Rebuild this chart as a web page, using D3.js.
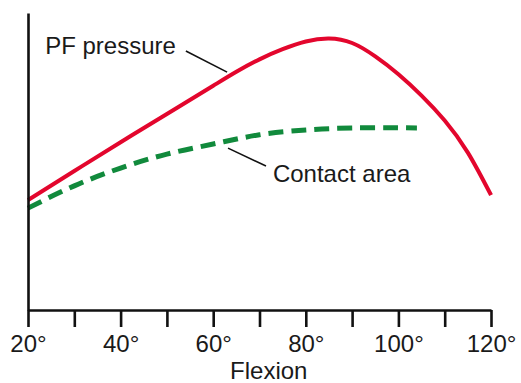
<!DOCTYPE html>
<html>
<head>
<style>
body { margin: 0; background: #fff; }
text { font-family: "Liberation Sans", Arial, sans-serif; fill: #1a1a1a; }
.axis path, .axis line { stroke: #111; stroke-width: 2.6; }
.axis text { font-size: 24px; }
</style>
<script src="https://cdn.jsdelivr.net/npm/d3@7"></script>
</head>
<body>
<svg width="521" height="383"></svg>
<script>

// flexion angle (deg) and relative values
var pfDeg = [20, 30, 40, 50, 60, 65, 70, 75, 80, 85, 90, 95, 100, 105, 110, 115, 120];
var pfVal = [37, 46.8, 56.5, 66, 75.5, 80.2, 84.4, 87.8, 90.4, 91.4, 89.9, 85.4, 79.4, 72.2, 63.8, 53, 38.7];

var caDeg = [20, 30, 40, 50, 60, 70, 80, 90, 104];
var caVal = [34.3, 41.8, 47.8, 52.5, 55.9, 59, 60.6, 61.3, 61.3];

var tickDeg = [20, 30, 40, 50, 60, 70, 80, 90, 100, 110, 120];

var svg = d3.select("svg"),
    margin = {top: 13, right: 30, bottom: 73, left: 28},
    width = +svg.attr("width") - margin.left - margin.right,
    height = +svg.attr("height") - margin.top - margin.bottom;

var x = d3.scaleLinear().domain([20, 120]).range([0, width]),
    y = d3.scaleLinear().domain([0, 100]).range([height, 0]);

var g = svg.append("g")
    .attr("transform", "translate(" + margin.left + "," + margin.top + ")");

var line = d3.line()
    .x(function(d) { return x(d[0]); })
    .y(function(d) { return y(d[1]); })
    .curve(d3.curveNatural);

g.append("path")
    .datum(d3.zip(caDeg, caVal))
    .attr("fill", "none")
    .attr("stroke", "#118a3c")
    .attr("stroke-width", 5)
    .attr("stroke-dasharray", "15,8")
    .attr("d", line);

g.append("path")
    .datum(d3.zip(pfDeg, pfVal))
    .attr("fill", "none")
    .attr("stroke", "#e3062d")
    .attr("stroke-width", 4)
    .attr("d", line);

g.append("g")
    .attr("class", "axis")
    .attr("transform", "translate(0," + height + ")")
    .call(d3.axisBottom(x)
      .tickValues(tickDeg)
      .tickSize(17)
      .tickSizeOuter(0)
      .tickPadding(8)
      .tickFormat(function(d) { return d % 20 === 0 ? d + "°" : ""; }));

g.append("g")
    .attr("class", "axis")
    .call(d3.axisLeft(y).tickValues([]).tickSizeOuter(0));

g.selectAll(".axis text").attr("fill", "#1a1a1a");

g.append("text")
    .attr("x", x(72))
    .attr("y", height + 69)
    .attr("text-anchor", "middle")
    .style("font-size", "24px")
    .text("Flexion");

// annotations
var notes = [
  {text: "PF pressure", tx: 23.7, ty: 86.2, l: [54.1, 87.2, 63.0, 80.1]},
  {text: "Contact area", tx: 72.9, ty: 43.1, l: [63.2, 54.5, 71.4, 48.5]}
];

notes.forEach(function(n) {
  g.append("line")
    .attr("x1", x(n.l[0])).attr("y1", y(n.l[1]))
    .attr("x2", x(n.l[2])).attr("y2", y(n.l[3]))
    .attr("stroke", "#111")
    .attr("stroke-width", 1.6);
  g.append("text")
    .attr("x", x(n.tx))
    .attr("y", y(n.ty))
    .style("font-size", "24px")
    .text(n.text);
});

</script>
</body>
</html>
